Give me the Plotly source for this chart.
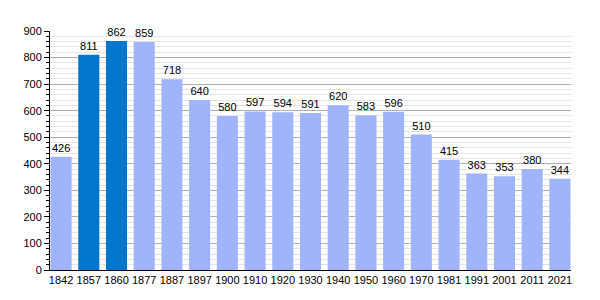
import plotly.graph_objects as go

years = ["1842", "1857", "1860", "1877", "1887", "1897", "1900", "1910", "1920", "1930",
         "1940", "1950", "1960", "1970", "1981", "1991", "2001", "2011", "2021"]
population = [426, 811, 862, 859, 718, 640, 580, 597, 594, 591,
              620, 583, 596, 510, 415, 363, 353, 380, 344]
highlight = ["1857", "1860"]

light = "#a0b4fc"
dark = "#0077cc"
colors = [dark if y in highlight else light for y in years]

fig = go.Figure(go.Bar(
    x=years, y=population,
    marker=dict(color=colors, line=dict(width=0)),
    text=[str(v) for v in population],
    textposition="outside",
    textfont=dict(family="Liberation Sans, Arial, sans-serif", size=11, color="#000"),
    cliponaxis=False,
))

fig.update_layout(
    width=600, height=300,
    margin=dict(l=50, r=29, t=31, b=30),
    paper_bgcolor="white", plot_bgcolor="white",
    bargap=0.24,
    showlegend=False,
    font=dict(family="Liberation Sans, Arial, sans-serif", size=11, color="#000"),
    xaxis=dict(
        type="category",
        range=[-0.4, 18.4],
        showline=True, linecolor="#000", linewidth=1,
        ticks="", showgrid=False,
        tickfont=dict(size=11),
    ),
    yaxis=dict(
        range=[0, 900], dtick=100,
        showline=True, linecolor="#000", linewidth=1,
        ticks="outside", ticklen=5, tickcolor="#000",
        gridcolor="#b0b0b0", gridwidth=1,
        zeroline=False,
        tickfont=dict(size=11),
        minor=dict(dtick=20, ticks="outside", ticklen=3, tickcolor="#000",
                   showgrid=True, gridcolor="#e4e4e4", gridwidth=1),
    ),
)

fig.write_html("out.html")
